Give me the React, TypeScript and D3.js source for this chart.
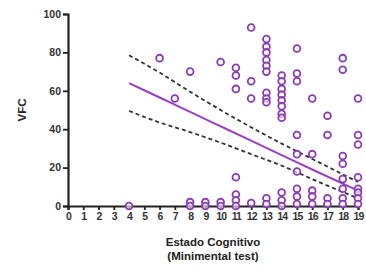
import React, { useEffect, useRef } from 'react';
import * as d3 from 'd3';

// scatter data: Minimental score vs VFC
const mmseScores = [
  4,
  6,
  7,
  8, 8, 8,
  9, 9,
  10, 10, 10,
  11, 11, 11, 11, 11, 11, 11,
  12, 12, 12, 12,
  13, 13, 13, 13, 13, 13, 13, 13, 13, 13, 13,
  14, 14, 14, 14, 14, 14, 14, 14, 14, 14, 14,
  15, 15, 15, 15, 15, 15, 15, 15, 15,
  16, 16, 16, 16, 16,
  17, 17, 17, 17,
  18, 18, 18, 18, 18, 18, 18, 18,
  19, 19, 19, 19, 19, 19, 19, 19
];
const vfcValues = [
  0,
  77,
  56,
  70, 2, 0,
  2, 0,
  75, 2, 0,
  72, 68, 61, 15, 6, 3, 0,
  93, 65, 56, 1.5,
  87, 83, 80, 76, 73, 70, 59, 56, 54, 4, 1,
  68, 65, 61, 58, 55, 52, 48, 46, 7, 3, 0,
  82, 69, 65, 37, 27, 18, 9, 5, 1,
  56, 27, 8, 5, 1,
  47, 37, 4, 1,
  77, 71, 26, 22, 14, 9, 4, 1,
  56, 37, 32, 15, 9, 7, 4, 1
];

// regression line and 95% band
const fitX = [4, 6, 8, 10, 12, 14, 16, 19];
const fitY = [64, 56.5, 49, 41.5, 34, 26.5, 19, 8];
const upperY = [78.5, 69.5, 59.5, 50, 41, 32.5, 24.5, 12.5];
const lowerY = [49.5, 43.5, 38.5, 33, 27, 21, 14, 4];

const xTicks = d3.range(0, 20);
const yTicks = [0, 20, 40, 60, 80, 100];

const width = 366;
const height = 273;
const margin = { top: 14, right: 8, bottom: 67, left: 68 };

const App: React.FC = () => {
  const svgRef = useRef<SVGSVGElement>(null);

  useEffect(() => {
    if (!svgRef.current) return;
    d3.select(svgRef.current).selectAll('*').remove();
    const svg = d3.select(svgRef.current);

    const x = d3.scaleLinear().domain([0, 19]).range([margin.left, width - margin.right]);
    const y = d3.scaleLinear().domain([0, 100]).range([height - margin.bottom, margin.top]);
    const font = 'Liberation Sans, Arial, sans-serif';
    const purple = '#9a3fc4';

    // axes
    const yAxis = svg.append('g')
      .attr('transform', `translate(${margin.left},0)`)
      .call(d3.axisLeft(y).tickValues(yTicks).tickSize(5).tickPadding(2));
    const xAxis = svg.append('g')
      .attr('transform', `translate(0,${height - margin.bottom})`)
      .call(d3.axisBottom(x).tickValues(xTicks).tickSize(4).tickPadding(3));

    [xAxis, yAxis].forEach(a => {
      a.select('.domain').attr('stroke', '#222').attr('stroke-width', 2.2);
      a.selectAll('.tick line').attr('stroke', '#222').attr('stroke-width', 1.8);
      a.selectAll('.tick text')
        .attr('fill', '#333')
        .attr('font-family', font)
        .attr('font-weight', 'bold')
        .attr('font-size', 10.5);
    });
    xAxis.selectAll('.tick text').attr('letter-spacing', -0.9);

    // confidence band and fit
    const line = d3.line<number>()
      .x((_, i) => x(fitX[i]))
      .y(d => y(d))
      .curve(d3.curveMonotoneX);

    [upperY, lowerY].forEach(band => {
      svg.append('path')
        .attr('d', line(band))
        .attr('fill', 'none')
        .attr('stroke', '#333')
        .attr('stroke-width', 1.8)
        .attr('stroke-dasharray', '4,3');
    });

    svg.append('path')
      .attr('d', line(fitY))
      .attr('fill', 'none')
      .attr('stroke', purple)
      .attr('stroke-width', 2);

    // points
    svg.append('g')
      .selectAll('circle')
      .data(vfcValues)
      .enter()
      .append('circle')
      .attr('cx', (_, i) => x(mmseScores[i]))
      .attr('cy', d => y(d))
      .attr('r', 3.4)
      .attr('fill', 'white')
      .attr('fill-opacity', 0.6)
      .attr('stroke', '#8b3bb3')
      .attr('stroke-width', 1.8);

    // labels
    const title = (t: string, xx: number, yy: number, rot = false) =>
      svg.append('text')
        .attr('transform', rot ? 'rotate(-90)' : null)
        .attr('x', xx)
        .attr('y', yy)
        .attr('text-anchor', 'middle')
        .attr('font-family', font)
        .attr('font-weight', 'bold')
        .attr('font-size', 11.5)
        .attr('fill', '#222')
        .text(t);

    title('VFC', -y(50), 26, true);
    title('Estado Cognitivo', 213, 246);
    title('(Minimental test)', 213, 260);
  }, []);

  return (
    <svg
      ref={svgRef}
      width={width}
      height={height}
      style={{ position: 'absolute', left: 0, top: 0, background: 'white' }}
    />
  );
};

export default App;
